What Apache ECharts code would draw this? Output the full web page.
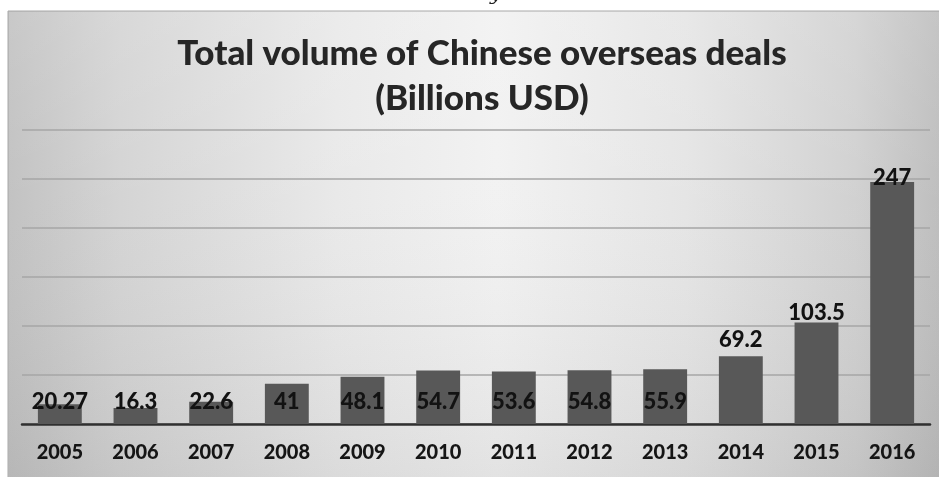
<!DOCTYPE html>
<html>
<head>
<meta charset="utf-8">
<script src="https://cdn.jsdelivr.net/npm/echarts@6/dist/echarts.min.js"></script>
<style>
  html, body { margin: 0; padding: 0; background: #ffffff; }
  #chart { width: 939px; height: 477px; }
</style>
</head>
<body>
<div id="chart"></div>
<script>
// Annual totals of Chinese overseas deals, billions of USD
const years = ['2005', '2006', '2007', '2008', '2009', '2010', '2011', '2012', '2013', '2014', '2015', '2016'];
const dealVolume = [20.27, 16.3, 22.6, 41, 48.1, 54.7, 53.6, 54.8, 55.9, 69.2, 103.5, 247];
const valueTicks = [0, 50, 100, 150, 200, 250, 300];

// Small bars carry their label near the baseline; tall bars carry it on top.
const topLabelGap = { '2014': 5, '2015': -1, '2016': -7 };

const chart = echarts.init(document.getElementById('chart'), null, { renderer: 'canvas' });

const FONT = 'Lato, "Open Sans", sans-serif';

const barData = dealVolume.map((v, i) => {
  const yr = years[i];
  const onTop = yr in topLabelGap;
  return {
    value: v,
    label: onTop
      ? { position: 'top', distance: topLabelGap[yr] }
      : { position: 'insideBottom', distance: 11 }
  };
});

chart.setOption({
  backgroundColor: '#ffffff',
  animation: false,
  graphic: [
    {
      type: 'rect', z: -10, silent: true,
      shape: { x: 8, y: 11, width: 940, height: 470 },
      style: {
        fill: new echarts.graphic.LinearGradient(0, 0, 1, 0, [
          { offset: 0, color: '#bfbfbf' },
          { offset: 0.12, color: '#d2d2d2' },
          { offset: 0.35, color: '#e8e8e8' },
          { offset: 0.52, color: '#f1f1f1' },
          { offset: 0.72, color: '#e4e4e4' },
          { offset: 0.9, color: '#cfcfcf' },
          { offset: 1, color: '#b9b9b9' }
        ]),
        stroke: '#a9a9a9', lineWidth: 1
      }
    },
    {
      type: 'rect', z: -9, silent: true,
      shape: { x: 9, y: 12, width: 938, height: 468 },
      style: {
        fill: new echarts.graphic.LinearGradient(0, 0, 0, 1, [
          { offset: 0, color: 'rgba(255,255,255,0.15)' },
          { offset: 0.4, color: 'rgba(255,255,255,0.05)' },
          { offset: 1, color: 'rgba(120,120,120,0.12)' }
        ])
      }
    },
    {
      type: 'text', z: 5, silent: true,
      left: 490, top: -15,
      style: { text: 'y', font: 'italic 20px "DejaVu Serif", serif', fill: '#222' }
    }
  ],
  title: {
    text: 'Total volume of Chinese overseas deals\n(Billions USD)',
    left: 477,
    top: 26,
    textAlign: 'center',
    textStyle: {
      fontFamily: FONT,
      fontWeight: 900,
      fontSize: 35,
      lineHeight: 45,
      color: '#262626'
    }
  },
  grid: { left: 22, right: 9, top: 130, bottom: 53, containLabel: false },
  xAxis: {
    type: 'category',
    data: years,
    axisLine: { show: true, lineStyle: { color: '#303030', width: 2.5 } },
    axisTick: { show: false },
    axisLabel: {
      margin: 19,
      fontFamily: FONT,
      fontWeight: 900,
      fontSize: 20,
      color: '#151515'
    }
  },
  yAxis: {
    type: 'value',
    min: valueTicks[0],
    max: valueTicks[valueTicks.length - 1],
    interval: valueTicks[1] - valueTicks[0],
    axisLine: { show: false },
    axisTick: { show: false },
    axisLabel: { show: false },
    splitLine: { show: true, lineStyle: { color: '#a6a6a6', width: 1.5 } }
  },
  series: [{
    type: 'bar',
    data: barData,
    barCategoryGap: '42%',
    itemStyle: { color: '#585858' },
    label: {
      show: true,
      fontFamily: FONT,
      fontWeight: 900,
      fontSize: 22,
      color: '#121212'
    }
  }]
});
</script>
</body>
</html>
